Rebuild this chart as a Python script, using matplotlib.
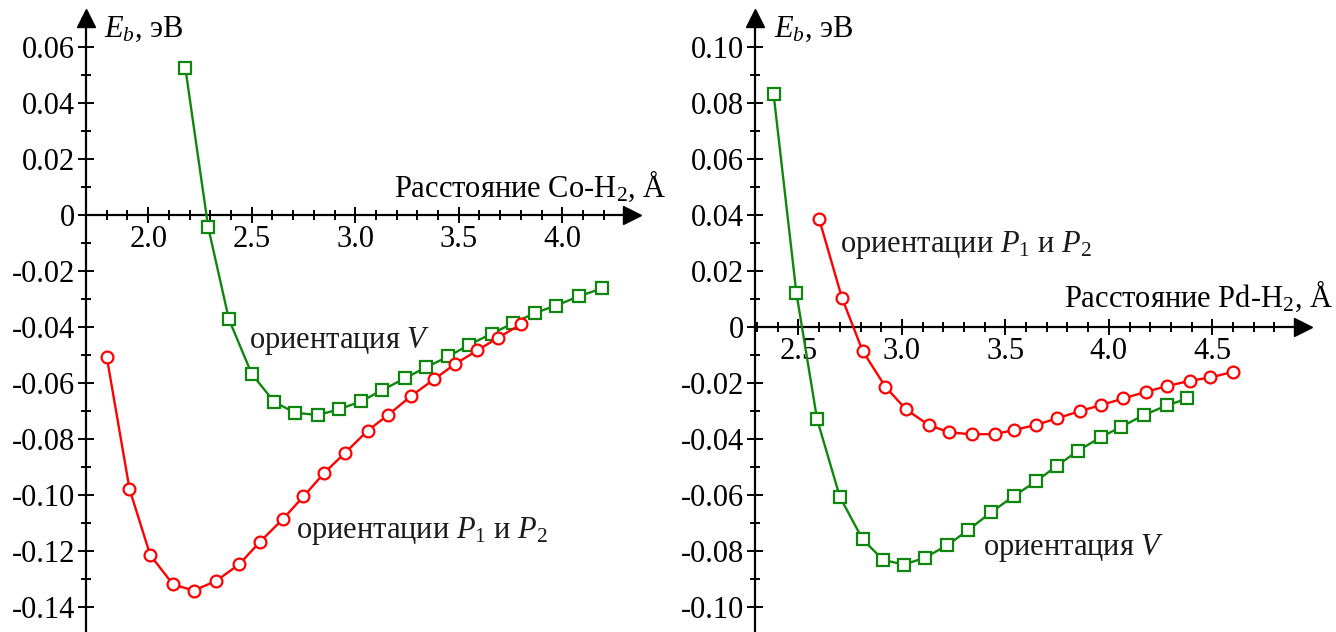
import matplotlib
matplotlib.use('Agg')
import matplotlib.pyplot as plt
from matplotlib.ticker import MultipleLocator, FuncFormatter

# Co-H2: orientation V (green squares) and P1/P2 (red circles)
co_x_v = [2.18, 2.29, 2.39, 2.50, 2.61, 2.71, 2.82, 2.92, 3.03, 3.13,
          3.24, 3.34, 3.45, 3.55, 3.66, 3.76, 3.87, 3.97, 4.08, 4.19]
co_e_v = [0.0523, -0.0044, -0.0373, -0.0568, -0.0669, -0.0707, -0.0715, -0.0695, -0.0666, -0.0626,
          -0.0584, -0.0545, -0.0506, -0.0464, -0.0424, -0.0388, -0.0350, -0.0324, -0.0291, -0.0263]
co_x_p = [1.80, 1.91, 2.01, 2.12, 2.22, 2.33, 2.44, 2.54, 2.65, 2.75,
          2.85, 2.95, 3.06, 3.16, 3.27, 3.38, 3.48, 3.59, 3.69, 3.80]
co_e_p = [-0.0507, -0.0979, -0.1215, -0.1320, -0.1342, -0.1307, -0.1248, -0.1168, -0.1087, -0.1006,
          -0.0922, -0.0851, -0.0771, -0.0714, -0.0647, -0.0588, -0.0534, -0.0484, -0.0439, -0.0391]

# Pd-H2
pd_x_v = [2.38, 2.49, 2.59, 2.70, 2.81, 2.91, 3.01, 3.11, 3.22, 3.32,
          3.43, 3.54, 3.65, 3.75, 3.85, 3.96, 4.06, 4.17, 4.28, 4.38]
pd_e_v = [0.0830, 0.0121, -0.0330, -0.0607, -0.0759, -0.0833, -0.0849, -0.0825, -0.0780, -0.0726,
          -0.0663, -0.0605, -0.0551, -0.0496, -0.0443, -0.0395, -0.0357, -0.0315, -0.0281, -0.0256]
pd_x_p = [2.60, 2.71, 2.81, 2.92, 3.02, 3.13, 3.23, 3.34, 3.45, 3.54,
          3.65, 3.75, 3.86, 3.96, 4.07, 4.18, 4.28, 4.39, 4.49, 4.60]
pd_e_p = [0.0385, 0.0104, -0.0086, -0.0214, -0.0295, -0.0351, -0.0377, -0.0384, -0.0383, -0.0369,
          -0.0350, -0.0327, -0.0301, -0.0280, -0.0256, -0.0232, -0.0212, -0.0193, -0.0181, -0.0161]

plt.rcParams['font.family'] = ['Liberation Serif', 'DejaVu Serif']
plt.rcParams['mathtext.fontset'] = 'custom'
plt.rcParams['mathtext.rm'] = 'Liberation Serif'
plt.rcParams['mathtext.it'] = 'Liberation Serif:italic'
plt.rcParams['axes.unicode_minus'] = False

fs = 22
green = '#0f870f'
red = '#ff0000'
txtc = '#1a1a1a'

fig = plt.figure(figsize=(13.36, 6.32), dpi=100)
ax1 = fig.add_axes([86/1336, 0, 545.7/1336, 1 - 18/632])
ax2 = fig.add_axes([755/1336, 0, 547.7/1336, 1 - 18/632])


def yfmt(v, pos):
    if abs(v) < 1e-9:
        return '0'
    return '%.2f' % v


def setup(ax, xlim, ylim, xmaj_start):
    ax.set_xlim(xlim)
    ax.set_ylim(ylim)
    ax.patch.set_visible(False)
    ax.spines['top'].set_visible(False)
    ax.spines['right'].set_visible(False)
    ax.spines['bottom'].set_position(('data', 0))
    for s in ['left', 'bottom']:
        ax.spines[s].set_linewidth(1.6)
    ax.xaxis.set_major_locator(MultipleLocator(0.5))
    ax.xaxis.set_minor_locator(MultipleLocator(0.1))
    ax.yaxis.set_major_locator(MultipleLocator(0.02))
    ax.yaxis.set_minor_locator(MultipleLocator(0.01))
    ax.yaxis.set_major_formatter(FuncFormatter(yfmt))
    ax.xaxis.set_major_formatter(FuncFormatter(
        lambda v, p: '%.1f' % v if v >= xmaj_start - 1e-6 and v <= xlim[1] - 0.25 else ''))
    ax.tick_params(which='major', direction='inout', length=12, width=1.4, labelsize=fs)
    ax.tick_params(which='minor', direction='inout', length=7, width=1.4)
    ax.tick_params(axis='x', which='major', pad=1)
    ax.tick_params(axis='y', which='major', pad=2)
    # arrow heads at the ends of both axes
    ax.plot(1, 0, '>k', ms=13, transform=ax.get_yaxis_transform(), clip_on=False)
    ax.plot(0, 1, '^k', ms=13, transform=ax.transAxes, clip_on=False)


setup(ax1, (1.7, 4.335), (-0.149, 0.0703), 2.0)
setup(ax2, (2.29, 4.937), (-0.109, 0.1103), 2.5)

mk = dict(lw=1.7, ms=8.5, mfc='white', mew=1.6, zorder=3, clip_on=False)
ax1.plot(co_x_v, co_e_v, '-s', color=green, **mk)
ax1.plot(co_x_p, co_e_p, '-o', color=red, **mk)
ax2.plot(pd_x_v, pd_e_v, '-s', color=green, **mk)
ax2.plot(pd_x_p, pd_e_p, '-o', color=red, **mk)

ax1.text(1.786, 0.0635, '$E_b$, эВ', fontsize=fs)
ax1.text(3.187, 0.0066, 'Расстояние Co-H$_2$, Å', fontsize=fs)
ax1.text(2.486, -0.0477, 'ориентация $V$', fontsize=fs, color=txtc)
ax1.text(2.714, -0.1153, 'ориентации $P_1$ и $P_2$', fontsize=fs, color=txtc)

ax2.text(2.38, 0.1035, '$E_b$, эВ', fontsize=fs)
ax2.text(3.781, 0.0070, 'Расстояние Pd-H$_2$, Å', fontsize=fs)
ax2.text(2.699, 0.0267, 'ориентации $P_1$ и $P_2$', fontsize=fs, color=txtc)
ax2.text(3.39, -0.0815, 'ориентация $V$', fontsize=fs, color=txtc)

fig.savefig('out.png', dpi=100)
